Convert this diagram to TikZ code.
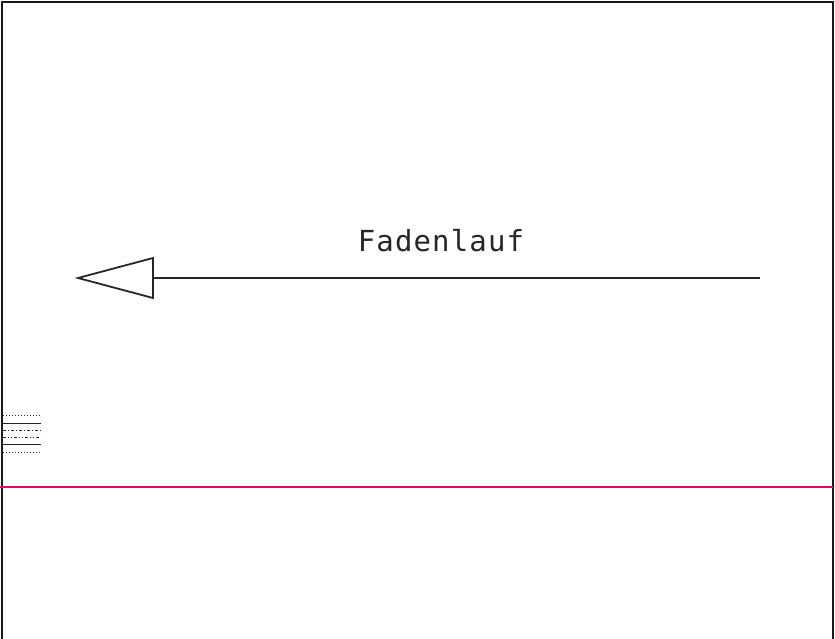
\documentclass[tikz,border=0pt]{standalone}
\usepackage{fontspec}
\newfontfamily\monofont[LetterSpace=4]{DejaVu Sans Mono}
\definecolor{pink}{HTML}{E6007E}
\begin{document}
\begin{tikzpicture}[x=1pt,y=-1pt,
  frame/.style={line width=2pt,draw=black!90},
  legend/.style={line width=1pt,draw=black!85},
  lbl/.style={font=\monofont\fontsize{29}{29}\selectfont,text=black!85,inner sep=0pt}]
\useasboundingbox (0,0) rectangle (835,639);
\coordinate (tl) at (2,2); \coordinate (tr) at (833,2);
\coordinate (bl) at (2,639); \coordinate (br) at (833,639);
\draw[frame] (bl) -- (tl) -- (tr) -- (br);
\coordinate (pl) at (0,487); \coordinate (pr) at (833,487);
\draw[line width=2.4pt,pink] (pl) -- (pr);
\coordinate (tip) at (78,278); \coordinate (bt) at (153,258); \coordinate (bb) at (153,298);
\coordinate (bm) at (153,278); \coordinate (lend) at (760,278);
\draw[line width=1.8pt,black!85,line join=miter] (tip) -- (bt) -- (bb) -- cycle;
\draw[line width=1.8pt,black!85] (bm) -- (lend);
\node[lbl] (t) at (441,241) {Fadenlauf};
\foreach \y/\s in {415/{dotted},423/{solid},430/{dash dot},437/{dash dot dot},444/{solid},452/{dotted}}{
  \draw[legend,\s] (3,\y) -- (41,\y);
}
\end{tikzpicture}
\end{document}
